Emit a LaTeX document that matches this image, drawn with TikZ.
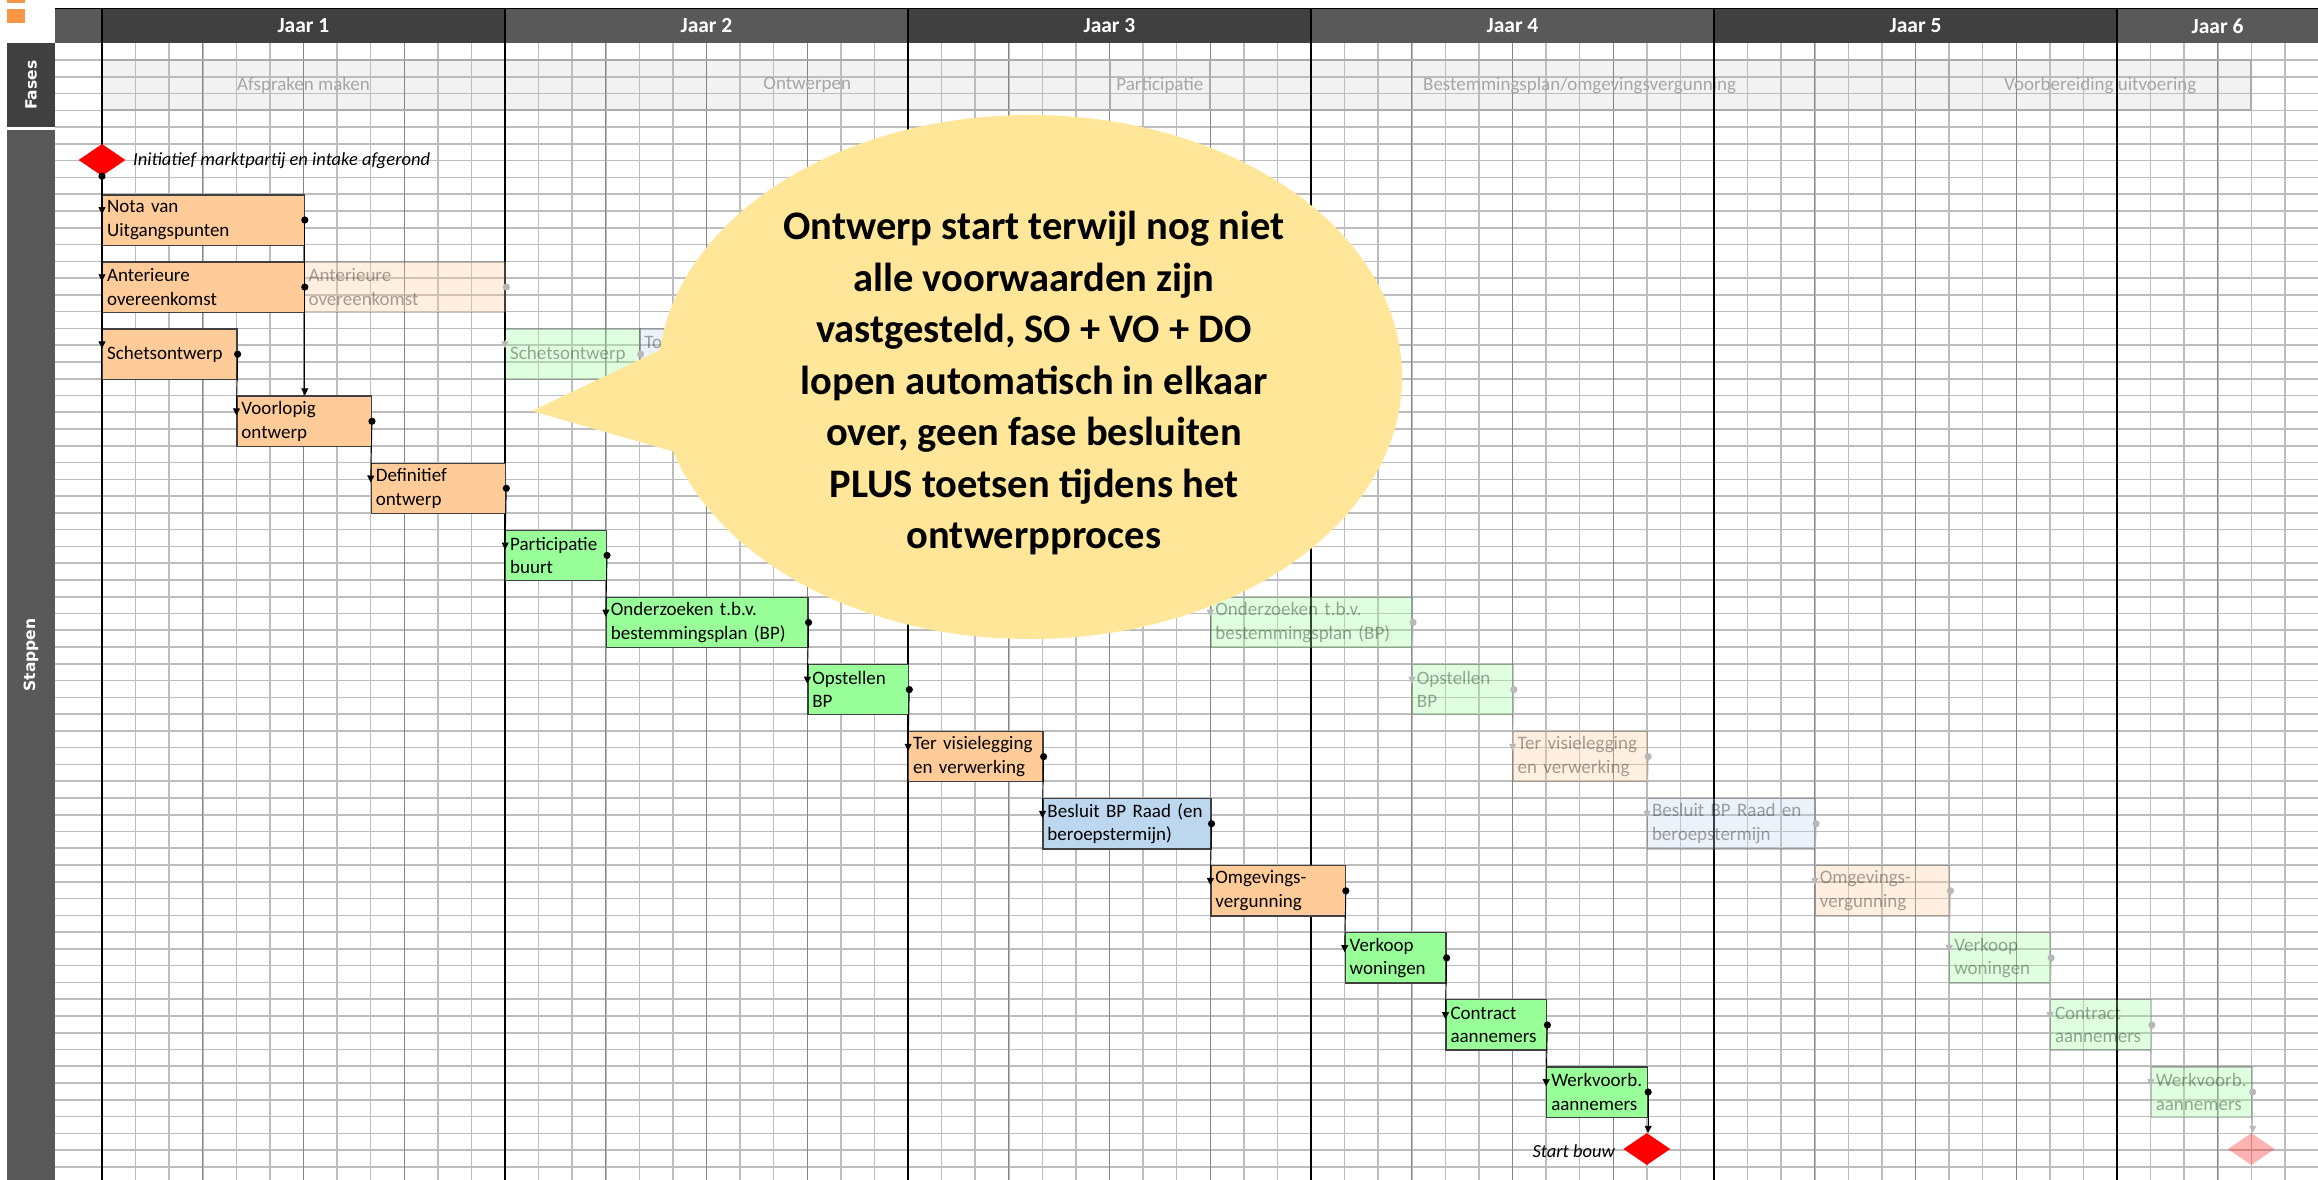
\documentclass[tikz,border=0pt]{standalone}
\usepackage{fontspec}
\setmainfont{Carlito}
\newfontfamily\labfont{DejaVu Sans}
\usetikzlibrary{arrows.meta,shapes.geometric}
\definecolor{hdrA}{HTML}{404040}
\definecolor{hdrB}{HTML}{595959}
\definecolor{gridc}{HTML}{BDBDBD}
\definecolor{quarterc}{HTML}{858585}
\definecolor{phasefill}{HTML}{F2F2F2}
\definecolor{phasedraw}{HTML}{ABABAB}
\definecolor{phasetext}{HTML}{A6A6A6}
\definecolor{orangebox}{HTML}{FFCC99}
\definecolor{greenbox}{HTML}{99FF99}
\definecolor{bluebox}{HTML}{BDD7EE}
\definecolor{boxborder}{HTML}{404040}
\definecolor{calloutc}{HTML}{FFE699}
\definecolor{tabor}{HTML}{F79646}
\newcommand\TaskBox[7]{%
  \pgfmathsetmacro\TBx{102+33.5833*#2}%
  \pgfmathsetmacro\TBw{33.5833*(#3-#2)}%
  \pgfmathsetmacro\TBy{194.2+67.08*#4}%
  \pgfmathsetmacro\TBt{\TBw-9}%
  \node[#7, fill=#5, minimum width=\TBw pt, text width=\TBt pt] (#1) at (\TBx,\TBy) {#6};%
}
\begin{document}
\begin{tikzpicture}[x=1pt,y=-1pt,
  stepbox/.style={draw=boxborder, line width=1.3pt, anchor=north west, minimum height=50.3pt,
    inner xsep=4.5pt, inner ysep=0pt, align=left, font=\fontsize{19}{23.5}\selectfont, text=black},
  fadebox/.style={stepbox, fill opacity=0.3, draw opacity=0.3, text opacity=0.35},
  conn/.style={draw=black, line width=0.9pt, -{Triangle[width=7pt,length=7pt]}},
  fconn/.style={draw=black!28, line width=0.9pt, -{Triangle[width=7pt,length=7pt]}},
  phasebox/.style={draw=phasedraw, line width=2pt, minimum height=50.6pt, inner sep=0pt,
    text=phasetext, font=\fontsize{19}{22}\selectfont},
  yearhdr/.style={minimum height=35pt, inner sep=0pt, text=white, font=\bfseries\fontsize{21.5}{24}\selectfont},
  sidelbl/.style={rotate=90, text=white, font=\labfont\bfseries\fontsize{15.5}{18}\selectfont},
  milestone/.style={diamond, aspect=1.47, inner sep=0pt, minimum width=47pt, minimum height=32pt},
  note/.style={inner sep=0pt, font=\itshape\fontsize{18.5}{22}\selectfont}
]
\useasboundingbox (0,0) rectangle (2318,1180);
\fill[white] (0,0) rectangle (2318,1180);

% phase band fills
\fill[phasefill] (102,60.07) rectangle (2251.3,110.38);

% grid: horizontal
\foreach \k in {1,...,67} {
  \pgfmathsetmacro\GY{43.3+16.77*\k}
  \draw[gridc, line width=1.6pt] (55,\GY) -- (2318,\GY);
}
% grid: months
\foreach \k in {1,...,65} {
  \pgfmathsetmacro\GX{102+33.5833*\k}
  \draw[gridc, line width=1.5pt] (\GX,43.3) -- (\GX,1180);
}
% grid: quarters
\foreach \k in {3,6,9,15,18,21,27,30,33,39,42,45,51,54,57,63} {
  \pgfmathsetmacro\GX{102+33.5833*\k}
  \draw[quarterc, line width=1.2pt] (\GX,43.3) -- (\GX,1180);
}

% phases
\node[phasebox, minimum width=403pt] (ph1) at (303.5,85.2) {Afspraken maken};
\node[phasebox, minimum width=604.5pt] (ph2) at (807.25,85.2) {Ontwerpen};
\node[phasebox, minimum width=100.75pt] (ph3) at (1159.9,85.2) {Participatie};
\node[phasebox, minimum width=738.8pt] (ph4) at (1579.6,85.2) {Bestemmingsplan/omgevingsvergunning};
\node[phasebox, minimum width=302.25pt] (ph5) at (2100.2,85.2) {Voorbereiding uitvoering};

% header
\fill[hdrB] (55,8.3) rectangle (102,43.3);
\node[yearhdr, fill=hdrA, minimum width=403pt] (jaar1) at (303.5,25.8) {Jaar 1};
\node[yearhdr, fill=hdrB, minimum width=403pt] (jaar2) at (706.5,25.8) {Jaar 2};
\node[yearhdr, fill=hdrA, minimum width=403pt] (jaar3) at (1109.5,25.8) {Jaar 3};
\node[yearhdr, fill=hdrB, minimum width=403pt] (jaar4) at (1512.5,25.8) {Jaar 4};
\node[yearhdr, fill=hdrA, minimum width=403pt] (jaar5) at (1915.5,25.8) {Jaar 5};
\node[yearhdr, fill=hdrB, minimum width=201pt] (jaar6) at (2217.5,25.8) {Jaar 6};
\draw[black, line width=1.2pt] (55,8.3) -- (2318,8.3);
% year lines
\foreach \k in {0,12,24,36,48,60} {
  \pgfmathsetmacro\GX{102+33.5833*\k}
  \draw[black, line width=1.3pt] (\GX,8.3) -- (\GX,1180);
}

% left label column
\fill[tabor] (7,0) rectangle (25,3);
\fill[tabor] (7,9) rectangle (25,23);
\fill[hdrA] (7,43.3) rectangle (55,127.2);
\fill[hdrB] (7,130) rectangle (55,1180);
\node[sidelbl] (faseslbl) at (31,85.2) {Fases};
\node[sidelbl] (stappenlbl) at (31,655) {Stappen};

% faded (shifted) schedule
\TaskBox{fant}{6}{12}{1}{orangebox}{Anterieure\\overeenkomst}{fadebox}
\TaskBox{fschets}{12}{16}{2}{greenbox}{Schetsontwerp}{fadebox}
\TaskBox{ftoe}{16}{20}{2}{bluebox}{Toetsen\\SO}{fadebox}
\TaskBox{fond}{33}{39}{6}{greenbox}{Onderzoeken t.b.v.\\bestemmingsplan (BP)}{fadebox}
\TaskBox{fopst}{39}{42}{7}{greenbox}{Opstellen\\BP}{fadebox}
\TaskBox{fter}{42}{46}{8}{orangebox}{Ter visielegging\\en verwerking}{fadebox}
\TaskBox{fbes}{46}{51}{9}{bluebox}{\mbox{Besluit BP Raad en}\\beroepstermijn}{fadebox}
\TaskBox{fomg}{51}{55}{10}{orangebox}{Omgevings-\\vergunning}{fadebox}
\TaskBox{fverk}{55}{58}{11}{greenbox}{Verkoop\\woningen}{fadebox}
\TaskBox{fcon}{58}{61}{12}{greenbox}{Contract\\aannemers}{fadebox}
\TaskBox{fwerk}{61}{64}{13}{greenbox}{Werkvoorb.\\aannemers}{fadebox}
\node[milestone, fill=red, fill opacity=0.3] (fd2) at (2251.3,1149) {};

\draw[fconn] ([yshift=-12pt]fschets.north west) -- ([yshift=-20pt]fschets.north west);
\draw[fconn] ([yshift=-12pt]fond.north west) -- ([yshift=-20pt]fond.north west);
\draw[fconn] (fond.east) -- ([yshift=-20pt]fopst.north west);
\draw[fconn] (fopst.east) -- ([yshift=-20pt]fter.north west);
\draw[fconn] (fter.east) -- ([yshift=-20pt]fbes.north west);
\draw[fconn] (fbes.east) -- ([yshift=-20pt]fomg.north west);
\draw[fconn] (fomg.east) -- ([yshift=-20pt]fverk.north west);
\draw[fconn] (fverk.east) -- ([yshift=-20pt]fcon.north west);
\draw[fconn] (fcon.east) -- ([yshift=-20pt]fwerk.north west);
\draw[fconn] (fwerk.east) -- (fwerk.east |- fd2.north);
\foreach \n in {fant,fschets,fond,fopst,fter,fbes,fomg,fverk,fcon,fwerk}
  \fill[black!28] (\n.east) circle[radius=3.6pt];

% main schedule
\node[milestone, fill=red] (d1) at (102,160) {};
\node[note, anchor=west] (lbl1) at (133,161) {Initiatief marktpartij en intake afgerond};
\TaskBox{nota}{0}{6}{0}{orangebox}{Nota van\\Uitgangspunten}{stepbox}
\TaskBox{ant}{0}{6}{1}{orangebox}{Anterieure\\overeenkomst}{stepbox}
\TaskBox{schets}{0}{4}{2}{orangebox}{Schetsontwerp}{stepbox}
\TaskBox{vo}{4}{8}{3}{orangebox}{Voorlopig\\ontwerp}{stepbox}
\TaskBox{do}{8}{12}{4}{orangebox}{Definitief\\ontwerp}{stepbox}
\TaskBox{part}{12}{15}{5}{greenbox}{Participatie\\buurt}{stepbox}
\TaskBox{ond}{15}{21}{6}{greenbox}{Onderzoeken t.b.v.\\bestemmingsplan (BP)}{stepbox}
\TaskBox{opst}{21}{24}{7}{greenbox}{Opstellen\\BP}{stepbox}
\TaskBox{ter}{24}{28}{8}{orangebox}{Ter visielegging\\en verwerking}{stepbox}
\TaskBox{bes}{28}{33}{9}{bluebox}{\mbox{Besluit BP Raad (en}\\beroepstermijn)}{stepbox}
\TaskBox{omg}{33}{37}{10}{orangebox}{Omgevings-\\vergunning}{stepbox}
\TaskBox{verk}{37}{40}{11}{greenbox}{Verkoop\\woningen}{stepbox}
\TaskBox{con}{40}{43}{12}{greenbox}{Contract\\aannemers}{stepbox}
\TaskBox{werk}{43}{46}{13}{greenbox}{Werkvoorb.\\aannemers}{stepbox}
\node[milestone, fill=red] (d2) at (1646.8,1149) {};
\node[note, anchor=east] (lbl2) at (1615,1151) {Start bouw};

\draw[conn] (d1.south) -- ([yshift=-20pt]nota.north west);
\draw[conn] (d1.south) -- ([yshift=-20pt]ant.north west);
\draw[conn] (d1.south) -- ([yshift=-20pt]schets.north west);
\draw[conn] (nota.east) -- (nota.east |- vo.north);
\draw[conn] (schets.east) -- ([yshift=-20pt]vo.north west);
\draw[conn] (vo.east) -- ([yshift=-20pt]do.north west);
\draw[conn] (do.east) -- ([yshift=-20pt]part.north west);
\draw[conn] (part.east) -- ([yshift=-20pt]ond.north west);
\draw[conn] (ond.east) -- ([yshift=-20pt]opst.north west);
\draw[conn] (opst.east) -- ([yshift=-20pt]ter.north west);
\draw[conn] (ter.east) -- ([yshift=-20pt]bes.north west);
\draw[conn] (bes.east) -- ([yshift=-20pt]omg.north west);
\draw[conn] (omg.east) -- ([yshift=-20pt]verk.north west);
\draw[conn] (verk.east) -- ([yshift=-20pt]con.north west);
\draw[conn] (con.east) -- ([yshift=-20pt]werk.north west);
\draw[conn] (werk.east) -- (werk.east |- d2.north);
\fill (d1.south) circle[radius=3.6pt];
\foreach \n in {nota,ant,schets,vo,do,part,ond,opst,ter,bes,omg,verk,con,werk}
  \fill (\n.east) circle[radius=3.6pt];

% callout
\fill[calloutc] (1030,377) ellipse[x radius=372pt, y radius=262pt];
\fill[calloutc] (532,411) -- (662,349) -- (1030,377) -- (675,452) -- cycle;
\node[align=center, font=\bfseries\fontsize{40.5}{51.5}\selectfont] (callout) at (1034,383)
  {Ontwerp start terwijl nog niet\\alle voorwaarden zijn\\vastgesteld, SO + VO + DO\\lopen automatisch in elkaar\\over, geen fase besluiten\\PLUS toetsen tijdens het\\ontwerpproces};
\end{tikzpicture}
\end{document}
